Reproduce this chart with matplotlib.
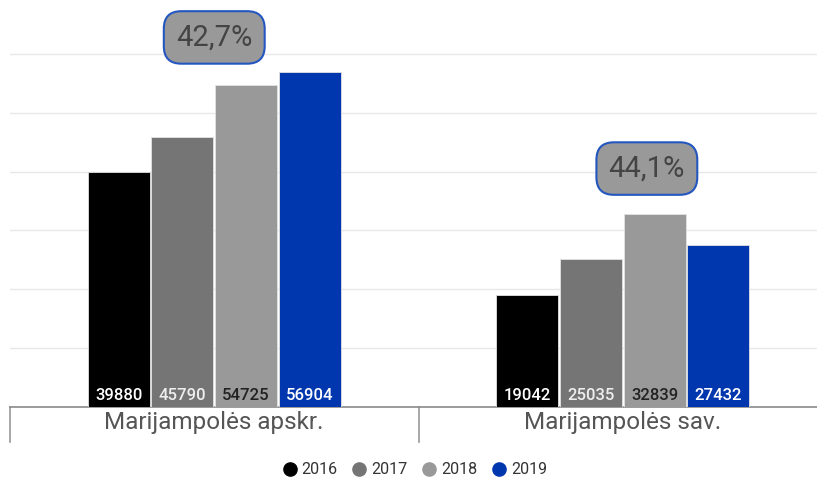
import matplotlib
matplotlib.use("Agg")
import matplotlib.pyplot as plt
from matplotlib.lines import Line2D
import matplotlib.transforms as mtransforms

plt.rcParams['font.family'] = ['Roboto', 'DejaVu Sans']

categories = ["Marijampolės apskr.", "Marijampolės sav."]
years = ["2016", "2017", "2018", "2019"]
values = {
    "2016": [39880, 19042],
    "2017": [45790, 25035],
    "2018": [54725, 32839],
    "2019": [56904, 27432],
}
colors = ["#000000", "#757575", "#999999", "#0036ae"]
label_colors = ["#ffffff", "#eeeeee", "#222222", "#ffffff"]
growth_labels = ["42,7%", "44,1%"]
growth_pos_x = [0.0, 1.059]
growth_pos_y = [62800, 40500]

W, H = 817, 478
fig = plt.figure(figsize=(W / 100, H / 100), dpi=100)
base_px = 406.7
ax = fig.add_axes([10 / W, (H - base_px) / H, 817 / W, base_px / H])
ax.set_xlim(-0.5, 1.5)
px_per_10k = 58.8
ax.set_ylim(0, base_px / px_per_10k * 10000)

slot = 63.7 / 408.5
bw = 62.0 / 408.5
for j, y in enumerate(years):
    xs = [i + (j - 1.5) * slot for i in range(len(categories))]
    ax.bar(xs, values[y], width=bw, color=colors[j], edgecolor="#e2e2e2",
           linewidth=0.6, zorder=3)
    for x, v in zip(xs, values[y]):
        ax.annotate(str(v), xy=(x, 0), xytext=(0, 8), textcoords="offset points",
                    ha="center", va="center", fontsize=12, fontweight="medium",
                    color=label_colors[j], zorder=4)

ax.set_yticks(range(0, 70000, 10000))
ax.grid(axis="y", color="#e8e8e8", linewidth=1, zorder=0)
ax.set_xticks([])
ax.tick_params(left=False, labelleft=False)
for s in ["top", "right", "left"]:
    ax.spines[s].set_visible(False)
ax.spines["bottom"].set_color("#8a8a8a")
ax.spines["bottom"].set_linewidth(1.2)

trans = mtransforms.blended_transform_factory(ax.transData, fig.transFigure)
for xsep in [-0.5, 0.5]:
    ax.add_line(Line2D([xsep, xsep], [(H - base_px) / H, (H - 442) / H],
                       transform=trans, color="#9a9a9a", linewidth=1.2, clip_on=False))
for i, c in enumerate(categories):
    ax.text(i, 1 - 423 / H, c, transform=trans, ha="center", va="center",
            fontsize=17.5, color="#555555")

for x, yv, lab in zip(growth_pos_x, growth_pos_y, growth_labels):
    ax.text(x, yv, lab, ha="center", va="center", fontsize=21, color="#444444",
            zorder=5,
            bbox=dict(boxstyle="round,pad=0.42,rounding_size=0.6", facecolor="#999999",
                      edgecolor="#2456c0", linewidth=1.5))

handles = [Line2D([], [], marker="o", linestyle="none", markersize=9.5,
                  markerfacecolor=c, markeredgecolor=c) for c in colors]
fig.legend(handles, years, loc="center", bbox_to_anchor=(0.507, 1 - 470 / H),
           ncol=4, frameon=False, fontsize=11.5, handletextpad=0.25,
           columnspacing=0.85, handlelength=1.0, labelcolor="#333333")

fig.savefig("out.png", dpi=100)
